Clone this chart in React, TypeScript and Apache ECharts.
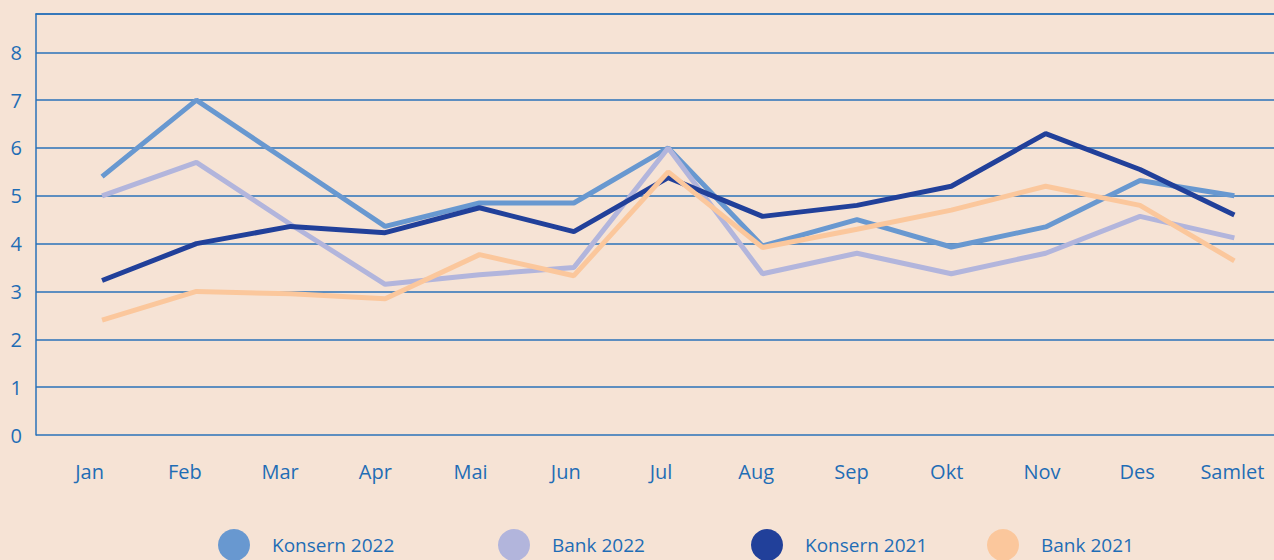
import React, { useEffect, useRef } from "react";
import * as echarts from "echarts";

const categories = ["Jan", "Feb", "Mar", "Apr", "Mai", "Jun", "Jul", "Aug", "Sep", "Okt", "Nov", "Des", "Samlet"];
const konsern2022 = [5.4, 7.0, 5.68, 4.36, 4.85, 4.85, 6.0, 3.95, 4.5, 3.93, 4.35, 5.32, 5.0];
const bank2022 = [5.0, 5.7, 4.4, 3.15, 3.35, 3.5, 6.0, 3.37, 3.8, 3.37, 3.8, 4.57, 4.12];
const konsern2021 = [3.23, 4.0, 4.36, 4.23, 4.75, 4.25, 5.38, 4.57, 4.8, 5.2, 6.3, 5.55, 4.6];
const bank2021 = [2.4, 3.0, 2.95, 2.85, 3.77, 3.33, 5.5, 3.92, 4.3, 4.7, 5.2, 4.8, 3.64];
const yTicks = [0, 1, 2, 3, 4, 5, 6, 7, 8];

const seriesDefs = [
  { name: "Konsern 2022", data: konsern2022, color: "#6898d0" },
  { name: "Bank 2022", data: bank2022, color: "#b2b5dc" },
  { name: "Konsern 2021", data: konsern2021, color: "#21409a" },
  { name: "Bank 2021", data: bank2021, color: "#fbc79c" },
];
const legendLefts = [213, 493, 746, 982];

const TEXT = "#1f6db5";
const GRID = "#2a72b8";
const FONT = "Open Sans";

export default function App() {
  const ref = useRef<HTMLDivElement>(null);
  useEffect(() => {
    if (!ref.current) return;
    const chart = echarts.init(ref.current, undefined, { renderer: "svg" });
    chart.setOption({
      animation: false,
      backgroundColor: "#f6e3d5",
      grid: { left: 36, right: 0, top: 14, bottom: 125, containLabel: false },
      legend: seriesDefs.map((s, i) => ({
        data: [s.name],
        left: legendLefts[i],
        top: 524,
        icon: "circle",
        itemWidth: 32,
        itemHeight: 32,
        itemGap: 0,
        textStyle: { color: TEXT, fontSize: 19, fontFamily: FONT, padding: [0, 0, 0, 17] },
        selectedMode: false,
      })),
      xAxis: [
        {
          type: "category",
          data: categories,
          boundaryGap: true,
          position: "bottom",
          axisLine: { show: false },
          axisTick: { show: false },
          axisLabel: { color: TEXT, fontSize: 20, fontFamily: FONT, margin: 26, padding: [0, 0, 0, 12] },
          splitLine: { show: false },
        },
        {
          type: "value",
          min: -0.7,
          max: 12.42,
          position: "top",
          axisLine: { show: true, onZero: false, lineStyle: { color: GRID, width: 1.5 } },
          axisTick: { show: false },
          axisLabel: { show: false },
          splitLine: { show: false },
        },
      ],
      yAxis: {
        type: "value",
        min: 0,
        max: 8.8,
        interval: 1,
        axisLine: { show: true, onZero: false, lineStyle: { color: GRID, width: 1.5 } },
        axisTick: { show: false },
        axisLabel: {
          color: TEXT,
          fontSize: 20,
          fontFamily: FONT,
          margin: 14,
          showMaxLabel: false,
          formatter: (v: number) => (yTicks.includes(v) ? String(v) : ""),
        },
        splitLine: { show: true, lineStyle: { color: GRID, width: 1.5 } },
      },
      series: seriesDefs.map((s) => ({
        name: s.name,
        type: "line",
        xAxisIndex: 1,
        data: s.data.map((v, i) => [i, v]),
        showSymbol: false,
        symbol: "none",
        color: s.color,
        lineStyle: { color: s.color, width: 5 },
        itemStyle: { color: s.color },
      })),
    });
    return () => chart.dispose();
  }, []);
  return <div ref={ref} style={{ width: 1274, height: 560, position: "fixed", left: 0, top: 0 }} />;
}
